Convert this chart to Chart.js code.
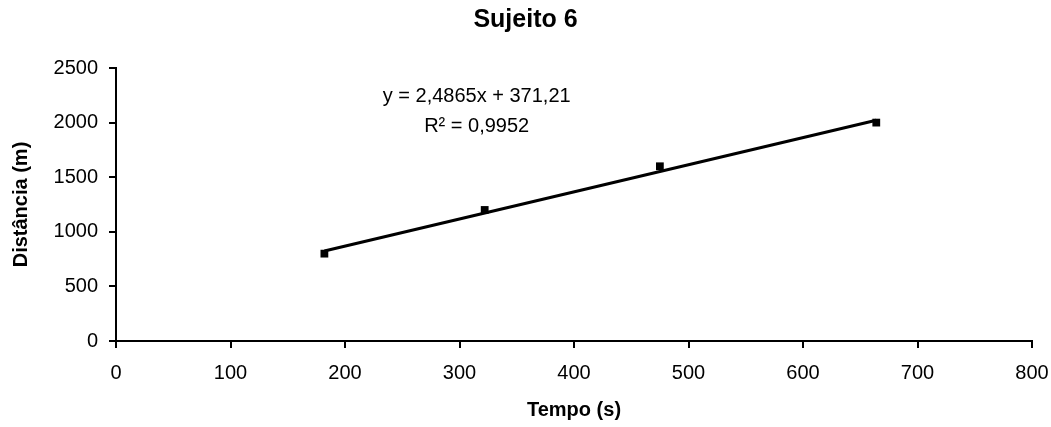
<!DOCTYPE html>
<html>
<head>
<meta charset="utf-8">
<script src="https://cdn.jsdelivr.net/npm/chart.js@4.4.0/dist/chart.umd.min.js"></script>
<style>
    html, body { margin: 0; padding: 0; background: #fff; }
    #wrap { width: 1051px; height: 427px; }
</style>
</head>
<body>
<div id="wrap"><canvas id="chart" width="1051" height="427"></canvas></div>
<script>
// tempo (s) x distancia (m)
const tempo = [182, 322, 475, 664]
const distancia = [800, 1200, 1600, 2000]

// linha de tendencia (do Excel)
const slope = 2.4865
const intercept = 371.21
const equationLines = ["y = 2,4865x + 371,21", "R\u00b2 = 0,9952"]
const equationPos = { x: 315, y: [2235, 1960] }

const xTicks = [0, 100, 200, 300, 400, 500, 600, 700, 800]
const yTicks = [0, 500, 1000, 1500, 2000, 2500]

const points = tempo.map((t, i) => ({ x: t, y: distancia[i] }))
const xMin = Math.min(...tempo)
const xMax = Math.max(...tempo)
const trend = [
    { x: xMin, y: slope * xMin + intercept },
    { x: xMax, y: slope * xMax + intercept }
]

const FONT = "'Liberation Sans', Arial, sans-serif"

const equationLabel = {
    id: "equationLabel",
    afterDatasetsDraw(chart) {
        const ctx = chart.ctx
        const xs = chart.scales.x
        const ys = chart.scales.y
        ctx.save()
        ctx.fillStyle = "#000"
        ctx.font = "20px " + FONT
        ctx.textAlign = "center"
        ctx.textBaseline = "middle"
        equationLines.forEach((line, i) => {
            ctx.fillText(line, xs.getPixelForValue(equationPos.x), ys.getPixelForValue(equationPos.y[i]))
        })
        ctx.restore()
    }
}

new Chart(document.getElementById("chart"), {
    type: "scatter",
    data: {
        datasets: [
            {
                label: "Sujeito 6",
                data: points,
                pointStyle: "rect",
                pointRadius: 5.5,
                backgroundColor: "#000",
                borderColor: "#000",
                borderWidth: 0
            },
            {
                label: "Tendencia",
                type: "line",
                data: trend,
                borderColor: "#000",
                borderWidth: 3,
                pointRadius: 0,
                fill: false
            }
        ]
    },
    options: {
        responsive: false,
        animation: false,
        layout: { padding: { left: 0, right: 0, top: 0, bottom: 0 } },
        plugins: {
            legend: { display: false },
            tooltip: { enabled: false },
            title: {
                display: true,
                text: "Sujeito 6",
                color: "#000",
                font: { family: FONT, size: 25, weight: "bold" },
                padding: { top: 5, bottom: 33 }
            }
        },
        scales: {
            x: {
                type: "linear",
                min: 0,
                max: 800,
                afterBuildTicks(scale) {
                    scale.ticks = xTicks.map(v => ({ value: v }))
                },
                afterFit(scale) {
                    scale.height = 86
                    scale.paddingRight = 19
                },
                border: { color: "#000", width: 2 },
                grid: { drawOnChartArea: false, color: "#000", lineWidth: 2, tickLength: 7 },
                ticks: {
                    color: "#000",
                    font: { family: FONT, size: 20 },
                    padding: 13,
                    maxRotation: 0,
                    callback: v => String(v)
                },
                title: {
                    display: true,
                    text: "Tempo (s)",
                    color: "#000",
                    font: { family: FONT, size: 20, weight: "bold" },
                    padding: { top: 0, bottom: 5 }
                }
            },
            y: {
                type: "linear",
                min: 0,
                max: 2500,
                afterBuildTicks(scale) {
                    scale.ticks = yTicks.map(v => ({ value: v }))
                },
                afterFit(scale) { scale.width = 116 },
                border: { color: "#000", width: 2 },
                grid: { drawOnChartArea: false, color: "#000", lineWidth: 2, tickLength: 7 },
                ticks: {
                    color: "#000",
                    font: { family: FONT, size: 20 },
                    padding: 11,
                    callback: v => String(v)
                },
                title: {
                    display: true,
                    text: "Distância (m)",
                    color: "#000",
                    font: { family: FONT, size: 20, weight: "bold" },
                    padding: { top: 9, bottom: 0 }
                }
            }
        }
    },
    plugins: [equationLabel]
})
</script>
</body>
</html>
